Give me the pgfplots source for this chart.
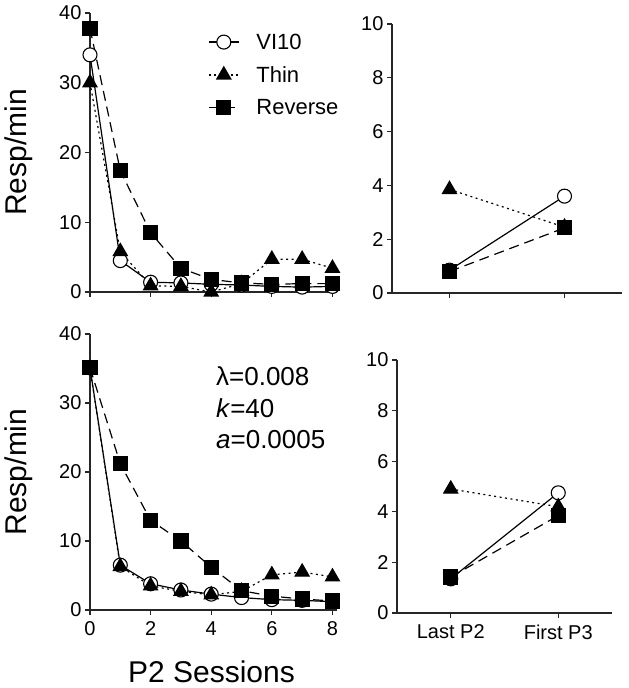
\documentclass[border=0pt]{standalone}
\usepackage{fontspec}
\setmainfont{Liberation Sans}
\usepackage{pgfplots}
\pgfplotsset{compat=1.18}
\pgfplotsset{
  base/.style={
    scale only axis, axis lines*=left, clip=false,
    axis line style={line width=1.4pt, black!85},
    tick style={line width=1.2pt, black!85},
    major tick length=5pt, tick align=outside,
    /pgf/number format/assume math mode=true,
    tick label style={font=\fontsize{20}{24}\selectfont, black},
    xticklabel style={yshift=-3pt},
    legend image code/.code={\draw[mark repeat=2,mark phase=2] plot coordinates {(0pt,0pt) (15pt,0pt) (30pt,0pt)};},
  },
  vi/.style={black, line width=1.2pt, solid, mark=*, mark size=7pt, mark options={solid, fill=white, line width=1.1pt}},
  thin/.style={black, line width=1.2pt, dash pattern=on 2pt off 3.5pt, mark=triangle*, mark size=8pt, mark options={solid}},
  rev/.style={black, line width=1.2pt, dash pattern=on 10pt off 6pt, mark=square*, mark size=7pt, mark options={solid}},
}
\begin{document}
\begin{tikzpicture}
\useasboundingbox (0,0) rectangle (629pt,688pt);
% top-left
\begin{axis}[base, at={(90pt,396pt)}, anchor=south west, width=247pt, height=279pt,
  xmin=0, xmax=8.15, ymin=0, ymax=40, xtick={0,2,4,6,8}, xticklabels={}, ytick={0,10,20,30,40},
  ylabel={Resp/min}, ylabel style={font=\fontsize{30}{36}\selectfont, at={(axis description cs:-0.2874,0.5)}, anchor=center},
  legend cell align=left,
  legend style={draw=none, fill=none, at={(rel axis cs:0.4656,0.941)}, anchor=north west,
    font=\fontsize{22}{26}\selectfont, row sep=11.7pt, column sep=15pt}]
\addplot[vi] coordinates {(0,34) (1,4.5) (2,1.4) (3,1.3) (4,1.1) (5,1.0) (6,0.8) (7,0.7) (8,0.8)};
\addlegendentry{VI10}
\addplot[thin] coordinates {(0,30) (1,5.8) (2,0.9) (3,0.8) (4,0.0) (5,1.2) (6,4.7) (7,4.7) (8,3.4)};
\addlegendentry{Thin}
\addplot[rev] coordinates {(0,37.8) (1,17.4) (2,8.5) (3,3.4) (4,1.8) (5,1.3) (6,1.1) (7,1.2) (8,1.2)};
\addlegendentry{Reverse}
\end{axis}
% bottom-left
\begin{axis}[base, at={(90pt,78pt)}, anchor=south west, width=247pt, height=276pt,
  xmin=0, xmax=8.15, ymin=0, ymax=40, xtick={0,2,4,6,8}, ytick={0,10,20,30,40},
  ylabel={Resp/min}, ylabel style={font=\fontsize{30}{36}\selectfont, at={(axis description cs:-0.2874,0.5)}, anchor=center},
  xlabel={P2 Sessions}, xlabel style={font=\fontsize{30}{36}\selectfont, at={(axis description cs:0.492,-0.261)}, anchor=base}]
\addplot[vi] coordinates {(0,35.1) (1,6.5) (2,3.8) (3,2.9) (4,2.3) (5,1.8) (6,1.5) (7,1.4) (8,1.2)};
\addplot[thin] coordinates {(0,35) (1,6.3) (2,3.5) (3,2.7) (4,2.2) (5,2.7) (6,5.1) (7,5.5) (8,4.8)};
\addplot[rev] coordinates {(0,35.1) (1,21.2) (2,13) (3,10) (4,6.2) (5,2.8) (6,2.0) (7,1.6) (8,1.3)};
\node[anchor=base west, font=\fontsize{26}{30}\selectfont, inner sep=0pt] at (rel axis cs:0.51,0.815) {λ=0.008};
\node[anchor=base west, font=\fontsize{26}{30}\selectfont, inner sep=0pt] at (rel axis cs:0.51,0.697) {\textit{k}=40};
\node[anchor=base west, font=\fontsize{26}{30}\selectfont, inner sep=0pt] at (rel axis cs:0.51,0.585) {\textit{a}=0.0005};
\end{axis}
% top-right
\begin{axis}[base, at={(392pt,395pt)}, anchor=south west, width=230pt, height=269pt,
  xmin=-0.5, xmax=1.5, ymin=0, ymax=10, xtick={0,1}, xticklabels={}, ytick={0,2,4,6,8,10}]
\addplot[vi] coordinates {(0,0.85) (1,3.6)};
\addplot[thin] coordinates {(0,3.85) (1,2.45)};
\addplot[rev] coordinates {(0,0.8) (1,2.42)};
\end{axis}
% bottom-right
\begin{axis}[base, at={(397pt,75pt)}, anchor=south west, width=215pt, height=253pt,
  xmin=-0.5, xmax=1.5, ymin=0, ymax=10, xtick={0,1}, xticklabels={Last P2, First P3}, ytick={0,2,4,6,8,10}]
\addplot[vi] coordinates {(0,1.35) (1,4.75)};
\addplot[thin] coordinates {(0,4.9) (1,4.2)};
\addplot[rev] coordinates {(0,1.42) (1,3.85)};
\end{axis}
\end{tikzpicture}
\end{document}
